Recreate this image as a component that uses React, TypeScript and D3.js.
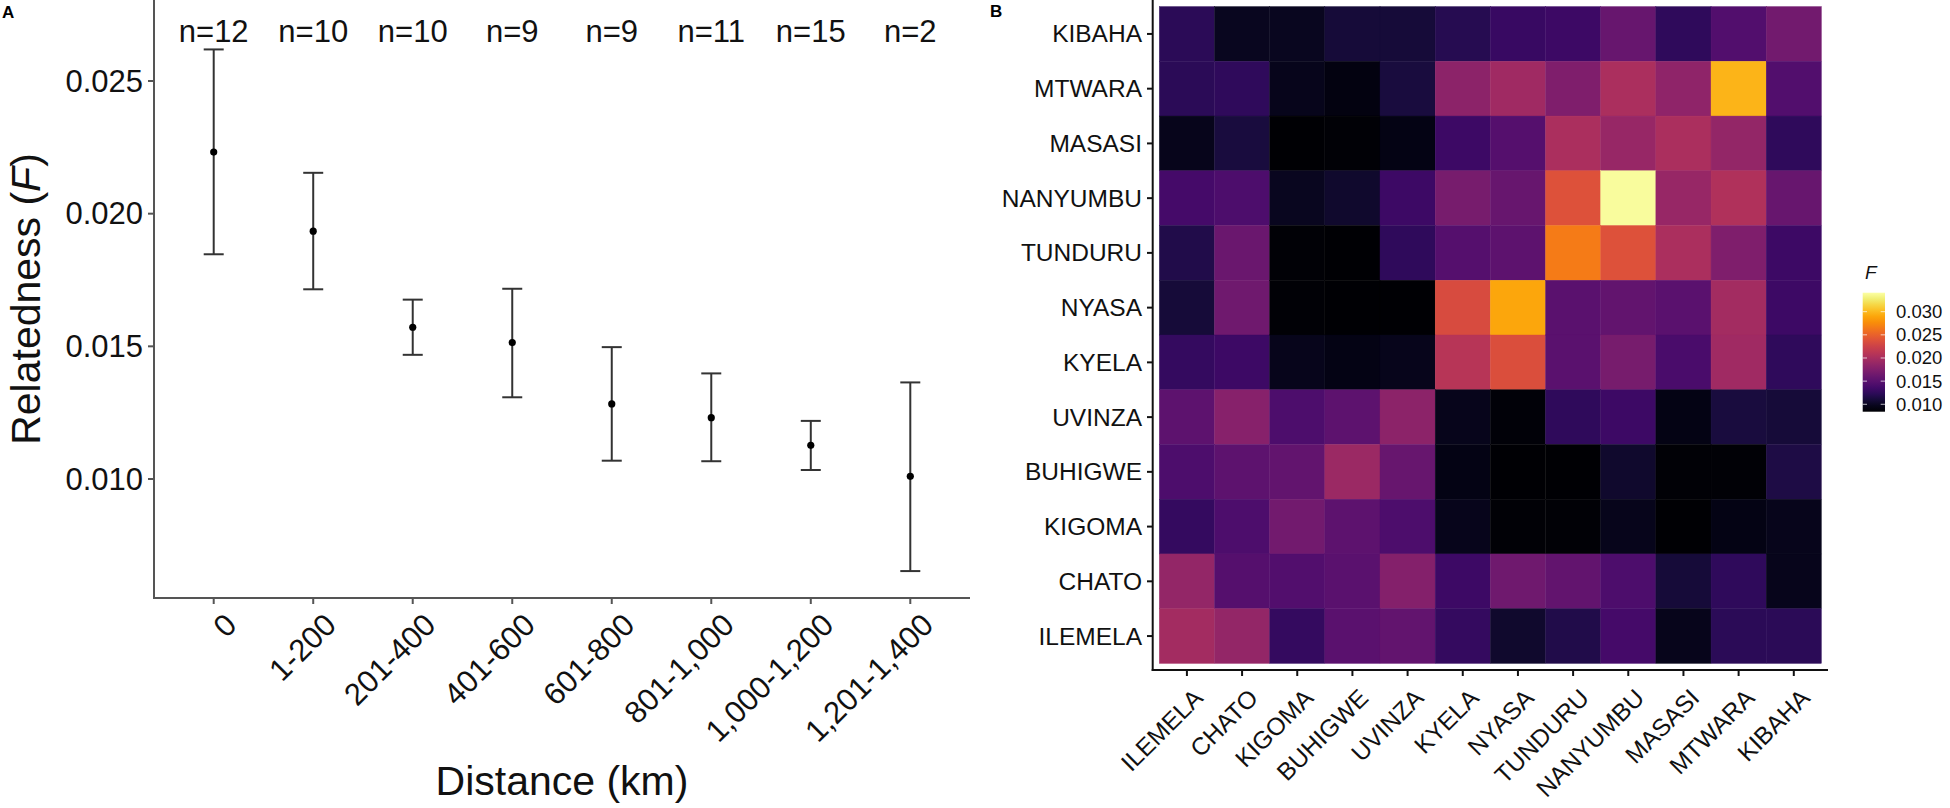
import React from 'react';
import * as d3 from 'd3';

// ---------- Panel A data ----------
const distanceBins = ['0', '1-200', '201-400', '401-600', '601-800', '801-1,000', '1,000-1,200', '1,201-1,400'];
const nPairs = [12, 10, 10, 9, 9, 11, 15, 2];
const meanF = [0.02232, 0.01934, 0.01572, 0.01514, 0.01283, 0.01231, 0.01127, 0.0101];
const upperF = [0.02619, 0.02154, 0.01676, 0.01717, 0.01497, 0.01398, 0.01219, 0.01364];
const lowerF = [0.01847, 0.01715, 0.01468, 0.01308, 0.01069, 0.01067, 0.01034, 0.00653];
const yTicksA = [0.01, 0.015, 0.02, 0.025];

// ---------- Panel B data ----------
const rowSites = ['KIBAHA', 'MTWARA', 'MASASI', 'NANYUMBU', 'TUNDURU', 'NYASA', 'KYELA', 'UVINZA', 'BUHIGWE', 'KIGOMA', 'CHATO', 'ILEMELA'];
const colSites = ['ILEMELA', 'CHATO', 'KIGOMA', 'BUHIGWE', 'UVINZA', 'KYELA', 'NYASA', 'TUNDURU', 'NANYUMBU', 'MASASI', 'MTWARA', 'KIBAHA'];
const fKIBAHA = [0.0123, 0.0099, 0.0099, 0.011, 0.011, 0.012, 0.013, 0.0133, 0.0159, 0.0125, 0.0146, 0.0166];
const fMTWARA = [0.0123, 0.0125, 0.0097, 0.0092, 0.0112, 0.0182, 0.0195, 0.0174, 0.0202, 0.0184, 0.0297, 0.0146];
const fMASASI = [0.0097, 0.0112, 0.0084, 0.0087, 0.0094, 0.0133, 0.0148, 0.0202, 0.0189, 0.0202, 0.0187, 0.0125];
const fNANYUMBU = [0.0138, 0.0143, 0.0099, 0.0105, 0.0133, 0.0169, 0.0159, 0.0238, 0.0338, 0.0189, 0.0205, 0.0159];
const fTUNDURU = [0.0117, 0.0161, 0.0087, 0.0085, 0.0125, 0.0148, 0.0153, 0.0266, 0.0238, 0.0202, 0.0174, 0.0133];
const fNYASA = [0.011, 0.0164, 0.0087, 0.0085, 0.0085, 0.0233, 0.029, 0.0151, 0.0156, 0.0151, 0.0197, 0.0133];
const fKYELA = [0.0128, 0.0133, 0.0097, 0.0094, 0.0097, 0.021, 0.0236, 0.0151, 0.0169, 0.0141, 0.0195, 0.0125];
const fUVINZA = [0.0153, 0.0179, 0.0143, 0.0153, 0.0182, 0.0097, 0.0088, 0.0125, 0.0133, 0.0094, 0.0112, 0.011];
const fBUHIGWE = [0.0143, 0.0153, 0.0156, 0.0192, 0.0159, 0.0094, 0.0085, 0.0085, 0.0105, 0.0087, 0.0087, 0.0115];
const fKIGOMA = [0.0128, 0.0143, 0.0166, 0.0153, 0.0143, 0.0097, 0.0087, 0.0087, 0.0097, 0.0084, 0.0094, 0.0097];
const fCHATO = [0.0187, 0.0148, 0.0146, 0.0151, 0.0177, 0.0133, 0.0164, 0.0156, 0.0143, 0.011, 0.0125, 0.0097];
const fILEMELA = [0.0197, 0.0187, 0.0128, 0.0151, 0.0156, 0.0128, 0.0105, 0.0117, 0.0138, 0.0097, 0.0123, 0.0123];
const fRows = [fKIBAHA, fMTWARA, fMASASI, fNANYUMBU, fTUNDURU, fNYASA, fKYELA, fUVINZA, fBUHIGWE, fKIGOMA, fCHATO, fILEMELA];
const legendTicks = [0.01, 0.015, 0.02, 0.025, 0.03];
const colorDomain = [0.0084, 0.0341];

const FONT = '"Liberation Sans", Arial, Helvetica, sans-serif';

export default function App() {
  const W = 1950;
  const H = 808;

  // Panel A scales
  const xA = d3.scalePoint<string>().domain(distanceBins).range([154, 970]).padding(0.6);
  const yA = d3.scaleLinear().domain([0.0055151, 0.028053]).range([598, 0]);
  const fmt3 = d3.format('.3f');

  // Panel B scales
  const xB = d3.scaleBand<string>().domain(colSites).range([1152.7, 1828]).paddingInner(0).paddingOuter(0.12);
  const yB = d3.scaleBand<string>().domain(rowSites).range([0, 670]).paddingInner(0).paddingOuter(0.12);
  const color = d3.scaleSequential(d3.interpolateInferno).domain(colorDomain as [number, number]);
  const legY = d3.scaleLinear().domain(colorDomain).range([411.7, 292.7]);
  const gradStops = d3.range(0, 1.0001, 0.05);

  const axisColA = '#555';
  const textCol = '#111';

  return (
    <svg
      width={W}
      height={H}
      viewBox={`0 0 ${W} ${H}`}
      style={{ position: 'absolute', left: 0, top: 0, background: '#fff' }}
      fontFamily={FONT}
    >
      <defs>
        <linearGradient id="infernoGrad" x1="0" y1="1" x2="0" y2="0">
          {gradStops.map((t, i) => (
            <stop key={i} offset={`${t * 100}%`} stopColor={d3.interpolateInferno(t)} />
          ))}
        </linearGradient>
      </defs>
      <rect x={0} y={0} width={W} height={H} fill="#fff" />

      {/* ================= Panel A ================= */}
      <text x={2} y={18} fontSize={17} fontWeight="bold" fill="#000">A</text>

      {/* error bars */}
      {distanceBins.map((b, i) => {
        const x = xA(b)!;
        return (
          <g key={b}>
            <line x1={x} x2={x} y1={yA(upperF[i])} y2={yA(lowerF[i])} stroke="#333" strokeWidth={2} />
            <line x1={x - 10} x2={x + 10} y1={yA(upperF[i])} y2={yA(upperF[i])} stroke="#333" strokeWidth={2} />
            <line x1={x - 10} x2={x + 10} y1={yA(lowerF[i])} y2={yA(lowerF[i])} stroke="#333" strokeWidth={2} />
            <circle cx={x} cy={yA(meanF[i])} r={3.6} fill="#000" />
            <text x={x} y={42} fontSize={31} textAnchor="middle" fill={textCol}>{`n=${nPairs[i]}`}</text>
          </g>
        );
      })}

      {/* axes A */}
      <line x1={154} x2={154} y1={0} y2={599} stroke={axisColA} strokeWidth={2} />
      <line x1={153} x2={970} y1={598} y2={598} stroke={axisColA} strokeWidth={2} />
      {yTicksA.map((t) => (
        <g key={t}>
          <line x1={148} x2={154} y1={yA(t)} y2={yA(t)} stroke={axisColA} strokeWidth={2} />
          <text x={143} y={yA(t)} fontSize={31} textAnchor="end" dominantBaseline="central" fill={textCol}>
            {fmt3(t)}
          </text>
        </g>
      ))}
      {distanceBins.map((b) => {
        const x = xA(b)!;
        return (
          <g key={'xt' + b}>
            <line x1={x} x2={x} y1={598} y2={604} stroke={axisColA} strokeWidth={2} />
            <text
              transform={`translate(${x + 9},${611}) rotate(-45)`}
              fontSize={31}
              textAnchor="end"
              dy="0.72em"
              fill={textCol}
            >
              {b}
            </text>
          </g>
        );
      })}
      <text x={562} y={795} fontSize={41} textAnchor="middle" fill={textCol}>Distance (km)</text>
      <text transform={`translate(${40},${299}) rotate(-90)`} fontSize={41} textAnchor="middle" fill={textCol}>
        Relatedness (<tspan fontStyle="italic">F</tspan>)
      </text>

      {/* ================= Panel B ================= */}
      <text x={990} y={17} fontSize={17} fontWeight="bold" fill="#000">B</text>

      {rowSites.map((r, ri) =>
        colSites.map((c, ci) => {
          const v = fRows[ri][ci];
          return (
            <rect
              key={r + c}
              x={xB(c)!}
              y={yB(r)!}
              width={xB.bandwidth()}
              height={yB.bandwidth()}
              fill={color(v)}
              stroke={color(v)}
              strokeWidth={0.4}
            />
          );
        })
      )}

      {/* axes B */}
      <line x1={1152.7} x2={1152.7} y1={0} y2={671} stroke="#111" strokeWidth={2} />
      <line x1={1151.7} x2={1828} y1={670} y2={670} stroke="#111" strokeWidth={2} />
      {rowSites.map((r) => {
        const y = yB(r)! + yB.bandwidth() / 2;
        return (
          <g key={'yl' + r}>
            <line x1={1147} x2={1152.7} y1={y} y2={y} stroke="#111" strokeWidth={2} />
            <text x={1142} y={y} fontSize={24.5} textAnchor="end" dominantBaseline="central" fill={textCol}>
              {r}
            </text>
          </g>
        );
      })}
      {colSites.map((c) => {
        const x = xB(c)! + xB.bandwidth() / 2;
        return (
          <g key={'xl' + c}>
            <line x1={x} x2={x} y1={670} y2={676} stroke="#111" strokeWidth={2} />
            <text
              transform={`translate(${x + 5},${687}) rotate(-45)`}
              fontSize={24.5}
              textAnchor="end"
              dy="0.72em"
              fill={textCol}
            >
              {c}
            </text>
          </g>
        );
      })}

      {/* legend */}
      <text x={1865} y={279} fontSize={19} fontStyle="italic" fill={textCol}>F</text>
      <rect
        x={1862.7}
        y={legY(colorDomain[1])}
        width={22.3}
        height={legY(colorDomain[0]) - legY(colorDomain[1])}
        fill="url(#infernoGrad)"
      />
      {legendTicks.map((t) => (
        <g key={'lg' + t}>
          <line x1={1862.7} x2={1867} y1={legY(t)} y2={legY(t)} stroke="#fff" strokeOpacity={0.7} strokeWidth={1} />
          <line x1={1880.7} x2={1885} y1={legY(t)} y2={legY(t)} stroke="#fff" strokeOpacity={0.7} strokeWidth={1} />
          <text x={1896} y={legY(t)} fontSize={18.5} dominantBaseline="central" fill={textCol}>
            {fmt3(t)}
          </text>
        </g>
      ))}
    </svg>
  );
}
